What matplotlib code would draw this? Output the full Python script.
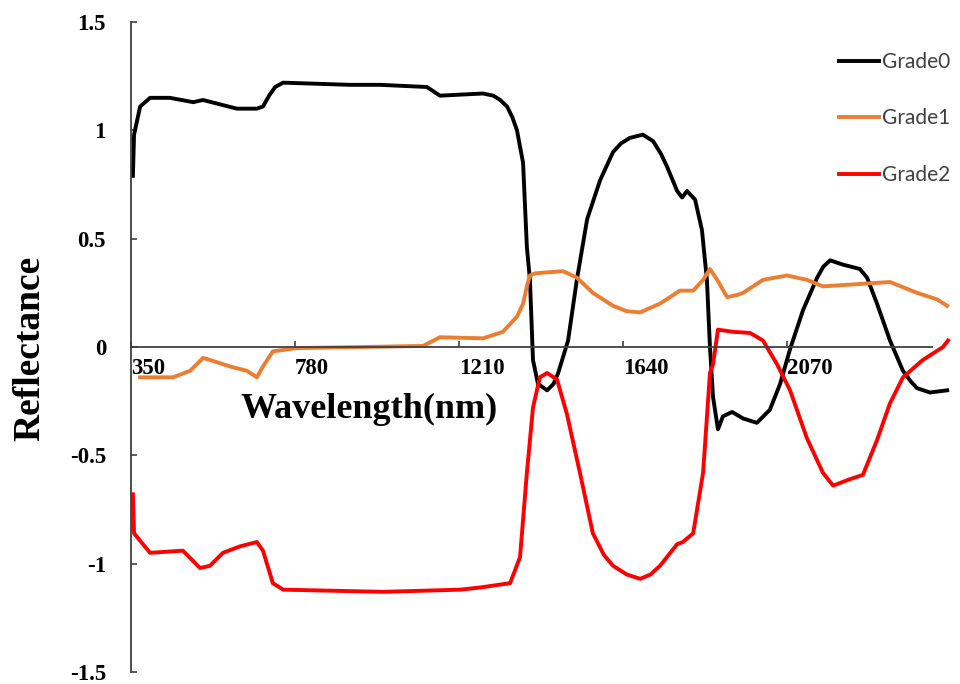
import matplotlib
matplotlib.use("Agg")
import matplotlib.pyplot as plt

# wavelength (nm) / reflectance
wl0 = [355, 358, 374, 400, 452, 513, 539, 583, 628, 680, 696, 712, 728, 749, 924, 1003, 1126,
       1160, 1273, 1300, 1318, 1336, 1350, 1362, 1378, 1388, 1396, 1404, 1417, 1441, 1458,
       1470, 1496, 1519, 1546, 1580, 1614, 1635, 1658, 1692, 1719, 1740, 1756, 1782, 1795,
       1808, 1829, 1847, 1860, 1868, 1876, 1889, 1902, 1926, 1955, 1991, 2025, 2052, 2078,
       2112, 2149, 2165, 2183, 2217, 2261, 2280, 2306, 2340, 2374, 2395, 2411, 2445, 2490]
grade0 = [0.79, 0.98, 1.11, 1.15, 1.15, 1.13, 1.14, 1.12, 1.10, 1.10, 1.11, 1.16, 1.20, 1.22,
          1.21, 1.21, 1.20, 1.16, 1.17, 1.16, 1.14, 1.11, 1.06, 1.00, 0.85, 0.46, 0.31, -0.06,
          -0.17, -0.20, -0.17, -0.12, 0.03, 0.31, 0.59, 0.77, 0.90, 0.94, 0.965, 0.98, 0.95,
          0.89, 0.83, 0.72, 0.69, 0.72, 0.68, 0.54, 0.31, 0.0, -0.23, -0.38, -0.32, -0.30,
          -0.33, -0.35, -0.29, -0.17, -0.01, 0.17, 0.32, 0.37, 0.40, 0.38, 0.36, 0.32, 0.20,
          0.03, -0.11, -0.16, -0.19, -0.21, -0.20]

wl1 = [374, 460, 505, 539, 575, 610, 654, 680, 696, 722, 785, 958, 1116, 1160, 1273, 1325,
       1362, 1378, 1388, 1396, 1410, 1483, 1519, 1561, 1614, 1650, 1685, 1737, 1789, 1824,
       1850, 1868, 1887, 1913, 1939, 1955, 2007, 2070, 2122, 2164, 2254, 2340, 2411, 2463,
       2490]
grade1 = [-0.14, -0.14, -0.11, -0.05, -0.07, -0.09, -0.11, -0.14, -0.09, -0.02, -0.005,
          0.0, 0.005, 0.045, 0.04, 0.07, 0.14, 0.20, 0.28, 0.33, 0.34, 0.35, 0.32, 0.25,
          0.19, 0.165, 0.16, 0.20, 0.26, 0.26, 0.31, 0.36, 0.31, 0.23, 0.24, 0.25, 0.31,
          0.33, 0.31, 0.28, 0.29, 0.30, 0.25, 0.22, 0.19]

wl2 = [355, 358, 400, 486, 531, 557, 591, 636, 680, 696, 722, 749, 1011, 1213, 1265, 1344,
       1370, 1388, 1404, 1422, 1441, 1467, 1493, 1527, 1561, 1590, 1614, 1650, 1685, 1712,
       1737, 1782, 1797, 1824, 1850, 1868, 1876, 1889, 1929, 1973, 2007, 2044, 2078, 2122,
       2164, 2191, 2235, 2269, 2306, 2340, 2374, 2426, 2479, 2492]
grade2 = [-0.68, -0.86, -0.95, -0.94, -1.02, -1.01, -0.95, -0.92, -0.90, -0.94, -1.09, -1.12,
          -1.13, -1.12, -1.11, -1.09, -0.97, -0.58, -0.28, -0.14, -0.12, -0.15, -0.31, -0.58,
          -0.86, -0.96, -1.01, -1.05, -1.07, -1.05, -1.01, -0.91, -0.90, -0.86, -0.58, -0.12,
          -0.08, 0.08, 0.07, 0.065, 0.03, -0.08, -0.20, -0.42, -0.58, -0.64, -0.61, -0.59,
          -0.43, -0.26, -0.14, -0.06, 0.0, 0.03]

xticks = [350, 780, 1210, 1640, 2070]
yticks = [-1.5, -1, -0.5, 0, 0.5, 1, 1.5]
ytick_labels = ["-1.5", "-1", "-0.5", "0", "0.5", "1", "1.5"]

serif = "Liberation Serif"

fig = plt.figure(figsize=(9.6, 6.84), dpi=100)
ax = fig.add_axes([131 / 960, 12 / 684, 820 / 960, 650 / 684])

ax.plot(wl0, grade0, color="black", lw=2.8, label="Grade0", solid_joinstyle="round")
ax.plot(wl1, grade1, color="#ED7D31", lw=2.8, label="Grade1", solid_joinstyle="round")
ax.plot(wl2, grade2, color="#FF0000", lw=2.8, label="Grade2", solid_joinstyle="round")

ax.set_xlim(350, 2500)
ax.set_ylim(-1.5, 1.5)

# axes: left spine at 350, x axis through y=0
for s in ["top", "right"]:
    ax.spines[s].set_visible(False)
ax.spines["bottom"].set_position(("data", 0))
ax.spines["bottom"].set_bounds(350, 2450)
for s in ["left", "bottom"]:
    ax.spines[s].set_color("#404040")
    ax.spines[s].set_linewidth(1.3)

ax.set_xticks(xticks)
ax.set_xticklabels([str(t) for t in xticks])
ax.set_yticks(yticks)
ax.set_yticklabels(ytick_labels)
ax.tick_params(axis="both", direction="in", length=4, width=1.2, color="#404040",
               labelsize=16.5)
ax.tick_params(axis="x", pad=8)
ax.tick_params(axis="y", pad=18)
for lbl in ax.get_xticklabels() + ax.get_yticklabels():
    lbl.set_fontfamily(serif)
    lbl.set_fontweight("bold")
for lbl in ax.get_xticklabels():
    lbl.set_ha("left")

ax.text(974, -0.29, "Wavelength(nm)", fontsize=26, fontweight="bold", family=serif,
        ha="center", va="center")
fig.text(30 / 960, 0.49, "Reflectance", fontsize=27, fontweight="bold", family=serif,
         rotation=90, ha="center", va="center")

leg = fig.legend(loc="upper left", bbox_to_anchor=(839 / 960, (684 - 52) / 684),
                 frameon=False, borderpad=0, borderaxespad=0, handlelength=1.9,
                 handletextpad=0.15, labelspacing=1.75,
                 prop={"family": "Lato", "size": 15})
for t in leg.get_texts():
    t.set_color("#404040")

fig.savefig("out.png", dpi=100)
